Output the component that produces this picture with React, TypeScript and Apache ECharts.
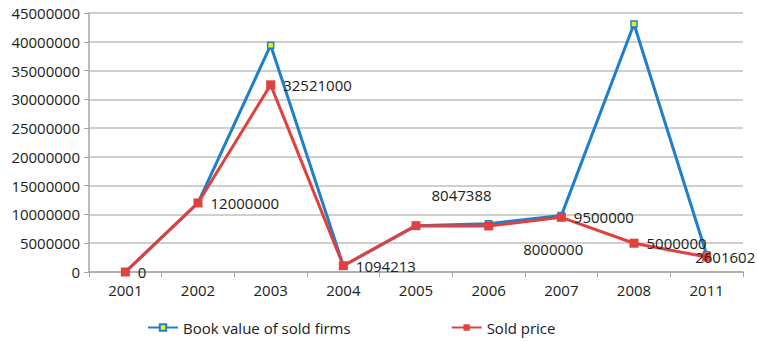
import React, { useEffect, useRef } from "react";
import * as echarts from "echarts";

const years = ["2001", "2002", "2003", "2004", "2005", "2006", "2007", "2008", "2011"];
const bookValue = [0, 12000000, 39400000, 1094213, 8047388, 8400000, 9800000, 43100000, 3000000];
const soldPrice = [0, 12000000, 32521000, 1094213, 8047388, 8000000, 9500000, 5000000, 2601602];
const yTicks = { min: 0, max: 45000000, interval: 5000000 };

// Per-point nudges for the sold price labels (dx, dy from the default "right" spot)
const soldLabelNudge: [number, number][] = [
  [0, 0], [0, 0], [0, 0], [0, 0], [3, -31], [22, 23], [0, 0], [0, 0], [-24, 0],
];

const FONT = "Open Sans";
const TEXT = "#202020";

export default function App() {
  const ref = useRef<HTMLDivElement>(null);
  useEffect(() => {
    if (!ref.current) return;
    const chart = echarts.init(ref.current, null, { renderer: "svg" });
    chart.setOption({
      animation: false,
      backgroundColor: "#ffffff",
      textStyle: { fontFamily: FONT, color: TEXT },
      grid: { left: 89, right: 14, top: 13, bottom: 69 },
      legend: {
        left: 142,
        top: 315,
        itemGap: 100,
        itemWidth: 30,
        itemHeight: 8,
        textStyle: { fontFamily: FONT, fontSize: 15, color: TEXT },
        data: ["Book value of sold firms", "Sold price"],
      },
      xAxis: {
        type: "category",
        data: years,
        boundaryGap: true,
        axisLine: { lineStyle: { color: "#a6a6a6", width: 1.5 } },
        axisTick: { show: true, length: 5, lineStyle: { color: "#a6a6a6" } },
        axisLabel: { fontFamily: FONT, fontSize: 15, color: TEXT, margin: 10 },
      },
      yAxis: {
        type: "value",
        min: yTicks.min,
        max: yTicks.max,
        interval: yTicks.interval,
        axisLine: { show: true, lineStyle: { color: "#a6a6a6", width: 1.5 } },
        axisTick: { show: true, length: 5, lineStyle: { color: "#a6a6a6" } },
        splitLine: { lineStyle: { color: "#bfbfbf", width: 1.5 } },
        axisLabel: {
          fontFamily: FONT,
          fontSize: 15,
          color: TEXT,
          margin: 9,
          formatter: (v: number) => String(v),
        },
      },
      series: [
        {
          name: "Book value of sold firms",
          type: "line",
          data: bookValue,
          symbol: "rect",
          symbolSize: 6,
          lineStyle: { color: "#1f7fcc", width: 3 },
          itemStyle: { color: "#f2f200", borderColor: "#1f7fcc", borderWidth: 1.5 },
          z: 2,
        },
        {
          name: "Sold price",
          type: "line",
          data: soldPrice.map((v, i) => ({
            value: v,
            label: { offset: soldLabelNudge[i] },
          })),
          symbol: "rect",
          symbolSize: 9,
          lineStyle: { color: "#e0403e", width: 3 },
          itemStyle: { color: "#e0403e" },
          label: {
            show: true,
            position: "right",
            distance: 8,
            fontFamily: FONT,
            fontSize: 15,
            color: TEXT,
            formatter: (p: any) => String(p.value),
          },
          z: 3,
        },
      ],
    });
    return () => chart.dispose();
  }, []);
  return <div ref={ref} style={{ width: 757, height: 341, position: "absolute", left: 0, top: 0 }} />;
}
